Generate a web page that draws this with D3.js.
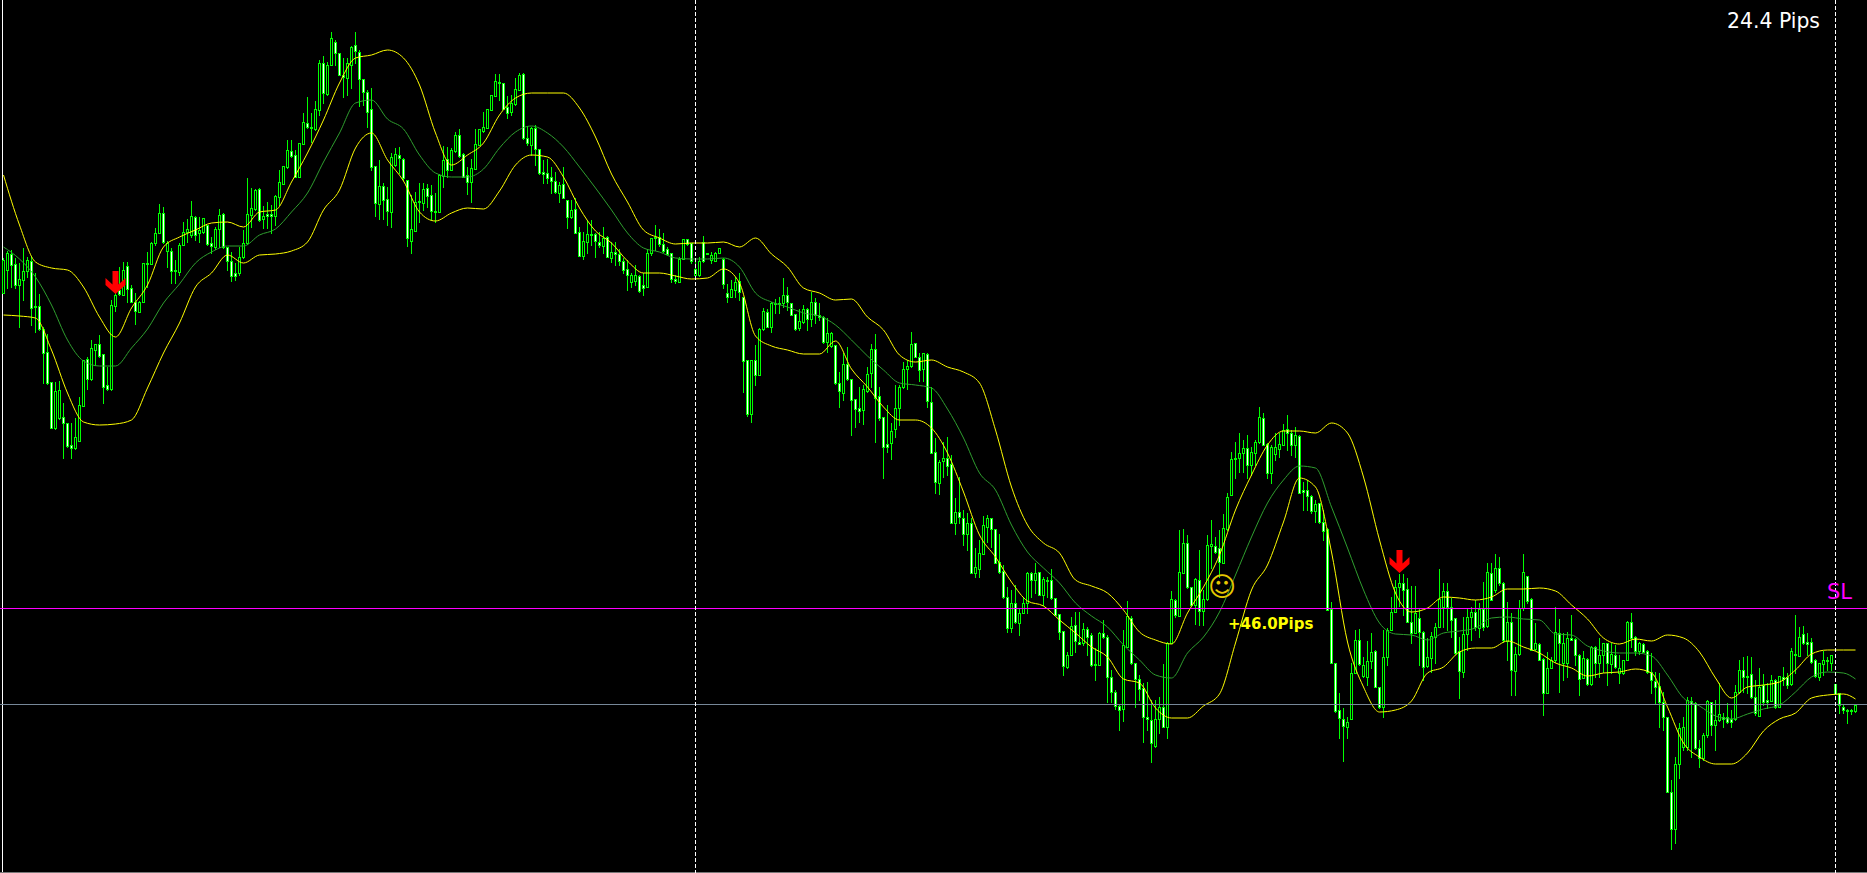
<!DOCTYPE html>
<html><head><meta charset="utf-8">
<script src="https://cdnjs.cloudflare.com/ajax/libs/d3/7.8.5/d3.min.js"></script>
<style>html,body{margin:0;padding:0;background:#000;overflow:hidden}svg{display:block}</style>
</head><body><svg id="c" width="1867" height="873"></svg>
<script>
// Values are chart points measured downward from the top of the price range.
const highs=[258,251,250,258,263,248,257,256,273,294,
327,334,382,382,381,403,423,423,418,397,
360,357,340,344,335,354,367,300,283,267,
262,262,285,293,301,263,252,242,228,204,
207,241,248,260,243,222,219,201,216,217,
218,225,237,227,209,213,247,252,263,247,
230,178,188,189,188,206,202,205,195,170,
166,140,140,150,143,113,97,113,101,60,
56,62,32,40,53,58,58,46,32,50,
79,90,88,166,160,183,187,153,148,147,
158,180,195,192,183,183,184,185,193,174,
146,147,148,132,129,153,167,159,129,129,
112,109,95,74,74,83,96,95,78,73,
73,126,127,125,149,160,159,167,172,182,
167,200,200,198,227,232,220,220,233,232,
227,236,242,242,249,258,260,273,265,275,
273,249,238,225,229,233,247,253,275,257,
239,239,243,258,257,236,253,252,252,248,
258,284,280,277,273,297,360,360,345,328,
308,309,302,299,297,278,287,303,314,309,
305,308,292,298,303,316,318,332,345,372,
353,347,379,399,387,385,367,344,334,387,
417,405,423,385,385,362,360,332,343,353,
353,353,387,438,460,442,437,455,498,477,
510,513,518,548,540,516,515,518,529,534,
565,587,590,585,608,597,572,572,563,572,
577,577,569,598,614,631,652,617,612,612,
623,627,633,648,632,620,635,670,690,705,
630,601,616,663,675,683,682,700,700,697,
664,642,591,599,530,529,535,587,578,550,
590,535,520,537,530,514,493,452,442,433,
440,435,447,440,407,413,443,445,433,433,
424,415,430,427,435,482,480,495,500,503,
510,528,602,663,693,708,717,663,630,629,
657,641,633,650,687,630,628,597,580,574,
574,578,586,586,608,631,638,632,623,569,
583,583,598,618,637,617,608,607,600,603,
582,563,563,554,557,582,602,613,647,600,
554,576,598,623,643,658,652,657,607,619,
633,632,615,638,654,651,658,646,646,638,
643,643,643,645,655,660,621,613,636,642,
643,650,653,672,673,692,717,780,757,723,
717,697,697,702,740,733,700,702,700,683,
713,703,710,685,660,657,656,657,680,668,
674,683,675,679,676,667,673,648,615,627,
626,633,638,659,663,651,657,655,684,693,
705,709,709,704];
const bodyTops=[260,253,254,264,279,271,260,261,306,306,
329,352,382,391,390,417,423,445,437,405,
360,359,348,344,344,354,385,305,295,290,
270,266,288,302,302,263,263,243,233,213,
213,243,251,270,245,232,229,216,217,230,
218,225,243,229,215,214,247,261,273,257,
243,214,208,190,189,216,214,214,196,182,
166,150,151,155,143,122,123,127,109,63,
63,65,38,42,53,75,63,47,45,52,
79,92,109,166,186,186,199,157,154,155,
159,180,229,202,201,189,188,195,211,175,
160,159,150,135,135,154,175,168,144,129,
127,109,95,81,82,83,107,103,89,75,
74,138,128,128,149,172,173,177,181,185,
184,200,210,209,232,241,234,234,234,242,
238,237,252,252,254,261,269,275,275,276,
285,253,238,237,237,244,249,253,279,259,
239,239,243,269,261,242,253,255,253,248,
259,293,289,282,281,297,360,360,360,329,
311,312,303,303,303,295,295,303,314,321,
309,309,302,302,315,317,333,333,345,383,
364,364,379,399,408,389,374,349,349,396,
417,444,431,408,387,369,366,344,343,357,
353,354,402,452,462,458,458,464,512,512,
518,523,523,567,553,525,518,518,529,562,
571,597,603,603,613,603,573,573,573,572,
579,580,580,598,614,631,655,626,625,642,
629,629,635,664,633,633,637,677,692,706,
645,616,618,663,679,688,717,720,719,707,
707,643,599,600,572,543,543,587,579,580,
599,545,544,546,548,528,497,459,458,453,
448,448,452,442,417,418,444,447,447,444,
430,429,433,435,436,490,490,496,504,503,
522,529,609,663,710,719,722,673,640,640,
665,661,652,651,687,657,630,612,587,583,
583,589,622,613,618,632,657,636,627,599,
591,591,607,618,651,634,617,612,612,609,
609,572,573,568,568,583,622,622,654,608,
572,576,599,643,644,659,668,660,632,633,
643,638,638,639,655,658,659,647,647,655,
643,643,654,655,668,660,622,622,637,643,
644,651,672,681,686,702,717,792,764,728,
727,700,701,703,748,735,701,702,720,714,
717,717,719,692,670,670,676,674,697,687,
685,700,680,680,676,677,677,651,654,637,
634,642,642,660,663,660,660,655,684,693,
707,710,710,705];
const bodyBottoms=[293,270,265,285,285,280,271,308,307,329,
353,383,428,428,418,423,446,448,448,441,
406,379,379,350,356,387,389,389,306,294,
295,289,302,311,312,302,264,264,243,233,
242,251,271,271,272,245,232,235,235,233,
232,244,246,247,229,247,261,276,276,273,
257,243,215,209,220,219,216,216,216,197,
184,167,156,177,177,144,127,128,129,110,
93,94,65,53,75,77,78,65,51,79,
92,112,167,203,204,200,211,212,165,158,
178,238,241,231,202,203,196,211,212,212,
176,170,170,151,156,177,182,182,169,145,
131,128,110,96,83,109,113,112,104,90,
138,143,145,149,173,174,178,181,192,193,
198,217,217,233,256,256,242,235,241,245,
246,257,258,254,261,270,275,282,281,291,
288,287,253,238,244,251,254,279,281,282,
259,244,261,275,275,261,254,260,261,253,
284,297,297,290,292,361,414,414,375,375,
329,327,327,304,304,303,302,315,329,328,
322,319,319,315,317,342,342,346,383,391,
393,379,400,409,411,410,391,373,398,418,
447,447,443,429,408,387,369,366,357,370,
369,401,453,482,483,461,466,523,523,517,
534,534,573,573,569,554,527,529,563,572,
597,628,628,622,623,613,603,580,580,595,
595,581,598,615,632,666,667,655,641,644,
643,637,665,665,665,637,677,692,706,710,
709,647,663,679,689,717,719,743,746,719,
727,727,643,615,616,573,587,605,605,611,
611,599,546,552,562,563,529,495,459,458,
453,465,465,453,442,445,473,473,454,449,
445,433,445,445,493,492,496,511,511,522,
531,610,663,711,718,726,727,719,673,664,
676,677,661,687,707,707,657,630,612,587,
590,622,633,633,632,667,666,658,637,627,
607,607,620,653,671,672,634,617,627,628,
627,626,600,590,583,640,641,670,671,654,
608,601,650,649,660,693,693,668,660,643,
663,663,640,655,679,678,684,684,663,663,
655,663,664,667,673,673,660,638,651,651,
652,672,680,687,702,717,792,829,829,764,
747,747,704,748,758,758,735,725,725,720,
719,722,722,719,692,677,677,697,713,716,
702,702,701,707,707,679,685,684,655,656,
643,644,662,676,677,664,661,663,693,705,
710,711,711,711];
const lows=[293,288,287,288,327,300,277,325,332,330,
383,384,428,429,419,458,447,458,449,441,
406,389,380,365,357,403,390,390,311,295,
295,302,302,324,312,302,287,264,245,233,
243,267,283,283,275,245,242,237,240,242,
233,245,253,249,247,248,270,281,280,275,
258,244,227,210,221,228,228,233,225,205,
184,168,157,177,177,144,128,142,130,115,
103,95,65,65,75,97,95,88,63,106,
105,127,170,216,219,219,225,227,166,173,
180,246,253,231,222,210,207,220,222,212,
187,177,170,152,157,177,194,202,169,145,
132,128,110,96,100,109,118,115,105,90,
139,145,155,165,174,183,183,193,193,202,
198,228,218,233,256,259,253,245,257,247,
253,257,262,265,265,273,290,287,285,292,
295,287,255,250,246,252,255,282,283,282,
259,245,263,275,276,262,254,263,261,253,
288,302,297,297,300,392,416,422,385,375,
330,327,332,313,313,307,310,315,330,330,
323,330,326,323,320,343,352,347,384,407,
400,380,435,427,422,424,392,387,442,420,
478,452,459,437,425,388,389,367,357,381,
381,407,453,493,494,477,475,523,534,523,
545,550,573,577,577,554,542,547,563,573,
598,632,632,623,635,613,613,597,593,595,
605,597,599,615,639,675,668,655,652,644,
645,655,666,680,665,638,702,702,709,730,
721,647,664,707,700,742,730,762,747,733,
727,738,643,617,616,573,588,606,624,625,
625,600,568,553,577,563,530,495,478,472,
472,478,475,465,443,445,478,483,460,457,
445,450,455,457,493,510,510,513,522,523,
540,610,663,712,738,761,738,719,673,665,
677,685,668,687,708,717,665,630,612,606,
615,622,643,633,665,680,667,672,663,627,
627,630,637,654,698,677,650,640,630,637,
630,627,600,592,585,642,660,695,695,655,
610,603,650,650,660,715,693,668,662,692,
680,677,640,665,695,678,685,685,677,677,
672,685,673,668,683,674,660,647,655,654,
652,673,693,703,727,730,792,849,843,778,
750,750,757,749,767,760,737,735,750,721,
727,723,727,720,693,692,693,698,715,716,
705,708,701,708,707,685,688,685,673,656,
644,655,663,677,680,675,670,670,694,713,
713,723,714,712];
const falling=[0,0,1,1,0,0,0,1,1,1,
1,1,1,0,0,1,1,1,0,0,
0,1,0,0,1,1,1,0,0,1,
0,1,1,1,0,0,1,0,0,0,
1,0,1,1,0,0,0,0,1,0,
0,1,1,0,0,1,1,1,1,0,
0,0,0,0,1,0,1,1,0,0,
0,0,1,1,0,0,1,1,0,0,
1,0,0,1,1,1,0,0,1,1,
1,1,1,1,0,1,1,0,0,1,
1,1,0,0,1,0,1,1,1,0,
0,1,0,0,1,1,1,0,0,0,
0,0,0,0,1,1,1,0,0,0,
1,1,0,1,1,1,1,1,1,0,
1,1,0,1,1,0,0,1,1,1,
0,1,0,1,1,1,1,0,0,1,
1,0,0,1,1,1,1,1,1,0,
0,1,1,0,0,1,0,0,0,0,
1,1,0,0,1,1,1,0,1,0,
0,1,0,1,1,0,1,1,1,0,
0,1,0,1,1,1,0,0,1,1,
0,1,1,1,1,0,0,0,1,1,
1,1,0,0,0,0,0,0,1,1,
0,1,1,1,0,0,1,1,0,1,
1,0,1,0,0,0,0,1,1,1,
1,1,0,1,0,0,0,1,0,1,
0,1,1,1,1,1,0,0,1,1,
0,1,1,1,0,1,1,1,1,1,
0,0,1,1,1,1,1,1,0,0,
1,0,0,1,0,0,1,1,0,1,
0,0,0,1,1,0,0,0,1,0,
0,1,0,0,0,1,1,0,0,0,
0,1,1,0,1,1,1,1,0,1,
1,1,1,1,1,1,0,0,0,1,
0,0,0,1,1,0,0,0,0,0,
1,1,1,0,1,1,0,0,0,0,
0,1,1,1,1,0,0,0,1,0,
1,0,1,0,1,1,0,1,0,0,
0,1,1,0,1,1,0,0,0,1,
0,0,1,1,1,0,1,0,1,0,
0,1,0,1,0,0,0,1,1,0,
1,1,1,1,1,1,1,1,0,0,
0,0,1,1,1,0,0,1,0,0,
1,1,1,0,0,1,1,1,1,0,
1,1,0,1,0,1,1,0,1,0,
1,1,1,1,0,0,1,0,1,1,
1,1,1,0];
// Envelope readings, one every fourth bar (last one at the final bar).
const bandBars=[...d3.range(0,461,4),463];
const upperBand=[175,225,262,268,270,287,317,337,308,285,247,237,230,223,222,227,212,210,182,
153,120,83,58,55,50,58,85,133,165,155,143,115,98,93,93,93,108,137,
174,202,230,238,244,243,243,242,247,238,254,267,288,293,300,299,317,
330,355,362,360,367,372,383,430,487,525,543,553,580,586,593,610,632,640,644,613,587,
555,510,475,445,431,431,433,423,433,477,540,593,612,608,597,598,600,597,589,589,588,
591,605,619,638,644,639,641,635,638,652,678,698,687,685,682,670,654,650,650,650];
const midBand=[247,259,277,305,340,361,366,366,348,329,303,284,263,252,246,246,235,229,212,
193,162,133,103,100,119,129,155,173,177,177,169,148,132,126,133,147,167,188,
210,233,248,252,258,259,259,258,267,293,302,307,313,316,325,340,356,
370,383,385,388,409,438,473,490,525,552,568,583,603,616,627,645,660,675,678,653,637,
612,575,537,503,480,466,468,507,548,590,623,634,635,640,633,631,628,618,617,619,620,
634,635,646,651,653,653,656,675,698,706,716,719,714,709,705,692,677,672,673,679];
const lowerBand=[315,316,318,350,393,422,425,424,420,388,353,323,287,273,255,263,255,254,251,
242,210,190,148,133,160,181,212,221,213,208,209,191,165,155,157,177,208,231,
243,261,273,273,276,279,278,269,283,336,346,350,354,354,341,369,387,
407,420,420,428,453,492,535,557,582,601,606,620,633,647,657,679,683,708,718,718,706,
694,643,590,565,522,478,487,552,642,687,712,710,701,673,667,652,648,648,641,647,653,
663,668,676,673,672,669,673,707,743,757,764,764,753,731,719,713,698,695,694,699];
const stopLevel=[608], grayLevel=[704];
const cursorBars=[173,458];
const signalBars=[28,349], signalTips=[294,573];
const labels=[
 {t:"24.4 Pips",x:1727,y:28,s:20.4,c:"#ffffff",w:400},
 {t:"SL",x:1827,y:599,s:21,c:"#ff00ff",w:400},
 {t:"+46.0Pips",x:1228,y:629,s:15,c:"#ffff00",w:700},
 {t:"\u263A",x:1208,y:596,s:27,c:"#e6c800",w:400}
];

const W=1867,H=873;
const svg=d3.select("#c");
svg.append("rect").attr("width",W).attr("height",H).attr("fill","#000");
const x=d3.scaleLinear().domain([0,463]).range([3.5,3.5+4*463]);
const y=d3.scaleLinear().domain([0,873]).range([0,873]);
const bars=d3.range(highs.length);
const crisp=g=>g.attr("shape-rendering","crispEdges");

// frame
svg.append("line").attr("x1",2.5).attr("x2",2.5).attr("y1",0).attr("y2",H).attr("stroke","#fff").call(crisp);
svg.append("line").attr("x1",0).attr("x2",W).attr("y1",H-.5).attr("y2",H-.5).attr("stroke","#777").call(crisp);

const gBars=svg.append("g").call(crisp);
gBars.selectAll(".w").data(bars).join("rect").attr("class","w")
 .attr("x",i=>x(i)-.5).attr("width",1)
 .attr("y",i=>y(highs[i])).attr("height",i=>Math.max(1,y(lows[i])-y(highs[i])+1)).attr("fill","#00ff00");
gBars.selectAll(".b").data(bars).join("rect").attr("class","b")
 .attr("x",i=>x(i)-1.5).attr("width",3)
 .attr("y",i=>y(bodyTops[i])).attr("height",i=>Math.max(1,y(bodyBottoms[i])-y(bodyTops[i])+1)).attr("fill","#00ff00");
gBars.selectAll(".c").data(bars.filter(i=>bodyBottoms[i]-bodyTops[i]>=2)).join("rect").attr("class","c")
 .attr("x",i=>x(i)-.5).attr("width",1)
 .attr("y",i=>y(bodyTops[i])+1).attr("height",i=>y(bodyBottoms[i])-y(bodyTops[i])-1)
 .attr("fill",i=>falling[i]?"#ffffff":"#000000");

const line=d3.line().x((d,k)=>x(bandBars[k])).y(d=>y(d)).curve(d3.curveMonotoneX);
[[midBand,"#2f9f2f",1],[upperBand,"#ffff00",1],[lowerBand,"#ffff00",1]].forEach(([vals,col,sw])=>{
 svg.append("path").attr("d",line(vals)).attr("fill","none").attr("stroke",col).attr("stroke-width",sw);
});

// signal arrows
const arrowShape=[[-3,-23],[3,-23],[3,-9.5],[10,-16],[10,-9],[0,0],[-10,-9],[-10,-16],[-3,-9.5]];
signalBars.forEach((b,k)=>{
 svg.append("path").attr("d",d3.line()(arrowShape)).attr("fill","#ff0000")
  .attr("transform",`translate(${x(b)},${y(signalTips[k])})`);
});

// horizontal levels
svg.selectAll(".gray").data(grayLevel).join("line").attr("x1",0).attr("x2",W)
 .attr("y1",d=>y(d)+.5).attr("y2",d=>y(d)+.5).attr("stroke","#778899").call(crisp);
svg.selectAll(".sl").data(stopLevel).join("line").attr("x1",0).attr("x2",W)
 .attr("y1",d=>y(d)+.5).attr("y2",d=>y(d)+.5).attr("stroke","#ff00ff").call(crisp);

// crosshair verticals
svg.selectAll(".cur").data(cursorBars).join("line")
 .attr("x1",b=>x(b)).attr("x2",b=>x(b))
 .attr("y1",0).attr("y2",H).attr("stroke","#fff").attr("stroke-dasharray","4 2").call(crisp);

svg.selectAll(".lab").data(labels).join("text")
 .attr("x",d=>d.x).attr("y",d=>d.y).attr("fill",d=>d.c)
 .attr("font-family","'DejaVu Sans'").attr("font-size",d=>d.s).attr("font-weight",d=>d.w)
 .text(d=>d.t);
</script></body></html>
